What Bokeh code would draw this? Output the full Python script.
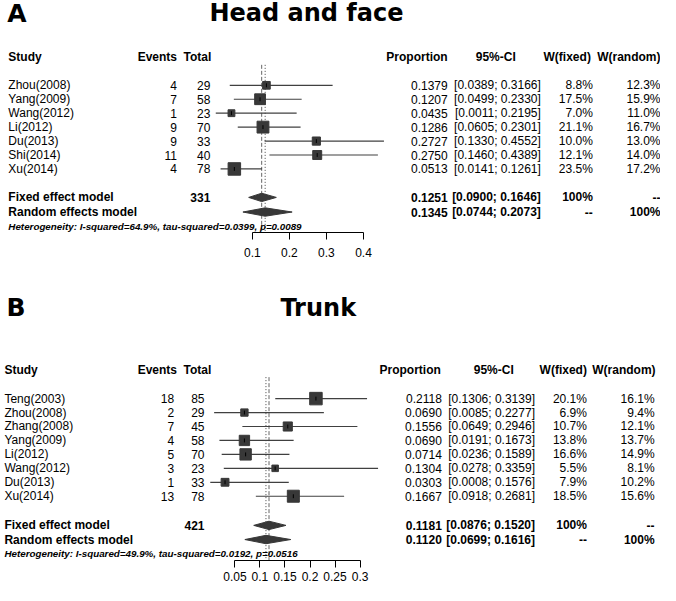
from bokeh.plotting import figure
from bokeh.layouts import column
from bokeh.models import Range1d, FixedTicker
from bokeh.core.properties import value
from bokeh.embed import file_html
from bokeh.resources import INLINE
import math

# ---------------- data: panel A (Head and face) ----------------
a_study = ["Zhou(2008)", "Yang(2009)", "Wang(2012)", "Li(2012)", "Du(2013)", "Shi(2014)", "Xu(2014)"]
a_events = [4, 7, 1, 9, 9, 11, 4]
a_total = [29, 58, 23, 70, 33, 40, 78]
a_prop = [0.1379, 0.1207, 0.0435, 0.1286, 0.2727, 0.2750, 0.0513]
a_lower = [0.0389, 0.0499, 0.0011, 0.0605, 0.1330, 0.1460, 0.0141]
a_upper = [0.3166, 0.2330, 0.2195, 0.2301, 0.4552, 0.4389, 0.1261]
a_wfixed = [8.8, 17.5, 7.0, 21.1, 10.0, 12.1, 23.5]
a_wrandom = [12.3, 15.9, 11.0, 16.7, 13.0, 14.0, 17.2]
a_fixed = [0.1251, 0.0900, 0.1646]
a_random = [0.1345, 0.0744, 0.2073]
a_n_total = 331
a_het = "Heterogeneity: I-squared=64.9%, tau-squared=0.0399, p=0.0089"
a_ticks = [0.1, 0.2, 0.3, 0.4]
a_tick_labels = ["0.1", "0.2", "0.3", "0.4"]

# ---------------- data: panel B (Trunk) ----------------
b_study = ["Teng(2003)", "Zhou(2008)", "Zhang(2008)", "Yang(2009)", "Li(2012)", "Wang(2012)", "Du(2013)", "Xu(2014)"]
b_events = [18, 2, 7, 4, 5, 3, 1, 13]
b_total = [85, 29, 45, 58, 70, 23, 33, 78]
b_prop = [0.2118, 0.0690, 0.1556, 0.0690, 0.0714, 0.1304, 0.0303, 0.1667]
b_lower = [0.1306, 0.0085, 0.0649, 0.0191, 0.0236, 0.0278, 0.0008, 0.0918]
b_upper = [0.3139, 0.2277, 0.2946, 0.1673, 0.1589, 0.3359, 0.1576, 0.2681]
b_wfixed = [20.1, 6.9, 10.7, 13.8, 16.6, 5.5, 7.9, 18.5]
b_wrandom = [16.1, 9.4, 12.1, 13.7, 14.9, 8.1, 10.2, 15.6]
b_fixed = [0.1181, 0.0876, 0.1520]
b_random = [0.1120, 0.0699, 0.1616]
b_n_total = 421
b_het = "Heterogeneity: I-squared=49.9%, tau-squared=0.0192, p=0.0516"
b_ticks = [0.05, 0.1, 0.15, 0.2, 0.25, 0.3]
b_tick_labels = ["0.05", "0.1", "0.15", "0.2", "0.25", "0.3"]

FONT = "Liberation Sans"
TITLE_FONT = "DejaVu Sans"
SQ_COLOR = "#383838"
CI_COLOR = "#404040"
PX_RANGE = (0, 673)   # layout coordinate span across the 660px frame


def panel(letter, title, study, events, total, prop, lower, upper, wf, wr,
          fixed, random, n_total, het, ticks, tick_labels, L):
    px0, px1 = L["forest_px"]
    lo_min, up_max = min(lower), max(upper)
    k = (px1 - px0) / (up_max - lo_min)
    x_start = lo_min + (PX_RANGE[0] - px0) / k
    x_end = lo_min + (PX_RANGE[1] - px0) / k

    p = figure(width=660, height=L["height"], output_backend="svg", toolbar_location=None,
               x_range=Range1d(x_start, x_end), y_range=Range1d(L["axis_y"], L["top"]),
               y_axis_location=None, min_border_left=0, min_border_right=0,
               min_border_top=0, min_border_bottom=L["border_bottom"])
    p.extra_x_ranges = {"px": Range1d(*PX_RANGE)}
    p.outline_line_color = None
    p.xgrid.visible = False
    p.ygrid.visible = False

    n = len(study)
    ys = [L["row0"] + i * L["step"] for i in range(n)]

    # reference lines
    p.segment(x0=[fixed[0]], y0=[L["line_top"]], x1=[fixed[0]], y1=[L["axis_y"]],
              line_color="#666666", line_dash="4 2", line_width=1)
    p.segment(x0=[random[0]], y0=[L["line_top"]], x1=[random[0]], y1=[L["axis_y"]],
              line_color="#444444", line_dash="1 2", line_width=1)

    # CIs, squares and point ticks
    p.segment(x0=lower, y0=ys, x1=upper, y1=ys, line_color=CI_COLOR, line_width=1.2)
    wmax = max(wf)
    sizes = [L["sq_max"] * math.sqrt(w / wmax) for w in wf]
    p.scatter(x=prop, y=ys, marker="square", size=sizes, fill_color=SQ_COLOR, line_color=SQ_COLOR)
    p.segment(x0=prop, y0=[y - 2 for y in ys], x1=prop, y1=[y + 2 for y in ys],
              line_color="black", line_width=1)

    # diamonds
    h = 4.3
    dy = [L["fixed_y"], L["random_y"]]
    xs = [[fixed[1], fixed[0], fixed[2], fixed[0]], [random[1], random[0], random[2], random[0]]]
    yy = [[dy[0], dy[0] - h, dy[0], dy[0] + h], [dy[1], dy[1] - h, dy[1], dy[1] + h]]
    p.patches(xs=xs, ys=yy, fill_color=SQ_COLOR, line_color=SQ_COLOR)

    def txt(x, y, t, align="left", size="12px", style="normal", font=FONT, baseline="middle"):
        p.text(x=x, y=y, text=t, x_range_name="px", text_align=align, text_baseline=baseline,
               text_font=value(font), text_font_size=size, text_font_style=style, text_color="black")

    # titles
    txt([L["letter_x"]], [L["title_y"]], [letter], size="25px", style="bold", font=TITLE_FONT)
    txt([L["title_x"]], [L["title_y"]], [title], align="center", size="24px", style="bold", font=TITLE_FONT)

    # headers
    hy = L["header_y"]
    txt([L["study_x"]], [hy], ["Study"], style="bold")
    txt([L["h_events"], L["h_total"], L["h_prop"], L["h_wf"], L["h_wr"]], [hy] * 5,
        ["Events", "Total", "Proportion", "W(fixed)", "W(random)"], align="right", style="bold")
    txt([L["h_ci"]], [hy], ["95%-CI"], align="center", style="bold")

    # study rows
    txt([L["study_x"]] * n, ys, study)
    txt([L["events_r"]] * n, ys, [str(e) for e in events], align="right")
    txt([L["total_r"]] * n, ys, [str(t) for t in total], align="right")
    txt([L["prop_r"]] * n, ys, ["%.4f" % v for v in prop], align="right")
    txt([L["ci_r"]] * n, ys, ["[%.4f; %.4f]" % (a, b) for a, b in zip(lower, upper)], align="right")
    txt([L["wf_r"]] * n, ys, ["%.1f%%" % w for w in wf], align="right")
    txt([L["wr_r"]] * n, ys, ["%.1f%%" % w for w in wr], align="right")

    # summary rows
    txt([L["study_x"]] * 2, dy, ["Fixed effect model", "Random effects model"], style="bold")
    txt([L["total_r"]], [dy[0]], [str(n_total)], align="right", style="bold")
    txt([L["prop_r"]] * 2, dy, ["%.4f" % fixed[0], "%.4f" % random[0]], align="right", style="bold")
    txt([L["ci_r"]] * 2, dy, ["[%.4f; %.4f]" % (fixed[1], fixed[2]), "[%.4f; %.4f]" % (random[1], random[2])],
        align="right", style="bold")
    txt([L["wf_r"]] * 2, dy, ["100%", "--"], align="right", style="bold")
    txt([L["wr_r"]] * 2, dy, ["--", "100%"], align="right", style="bold")
    txt([L["study_x"]], [L["het_y"]], [het], size="9.8px", style="bold italic")

    # axis
    ax = p.xaxis[0]
    ax.ticker = FixedTicker(ticks=ticks)
    ax.bounds = (ticks[0], ticks[-1])
    ax.major_label_overrides = {t: l for t, l in zip(ticks, tick_labels)}
    ax.minor_tick_line_color = None
    ax.major_tick_in = 0
    ax.major_tick_out = 7
    ax.major_label_standoff = L["standoff"]
    ax.axis_line_color = "black"
    ax.major_tick_line_color = "black"
    ax.major_label_text_font = FONT
    ax.major_label_text_font_size = "12px"
    ax.major_label_text_color = "black"
    return p


LA = dict(height=284, border_bottom=52, top=0, axis_y=238, forest_px=(219.5, 391.0),
          letter_x=7, title_x=312, title_y=13, header_y=58, line_top=66,
          row0=87, step=14.3, fixed_y=202, random_y=217, het_y=232, sq_max=12.5,
          study_x=8, events_r=180, total_r=214, h_events=180, h_total=215,
          prop_r=456, ci_r=551, wf_r=604, wr_r=673,
          h_prop=456, h_ci=505, h_wf=602, h_wr=673, standoff=8)
LB = dict(height=301, border_bottom=25, top=290, axis_y=573, forest_px=(213.9, 385.0),
          letter_x=6, title_x=324, title_y=314, header_y=378, line_top=385,
          row0=407, step=14.3, fixed_y=537, random_y=551.5, het_y=566, sq_max=12.5,
          study_x=4, events_r=177, total_r=208, h_events=180, h_total=215,
          prop_r=450, ci_r=545, wf_r=598, wr_r=667,
          h_prop=449, h_ci=503, h_wf=598, h_wr=668, standoff=4)

pa = panel("A", "Head and face", a_study, a_events, a_total, a_prop, a_lower, a_upper,
           a_wfixed, a_wrandom, a_fixed, a_random, a_n_total, a_het, a_ticks, a_tick_labels, LA)
pb = panel("B", "Trunk", b_study, b_events, b_total, b_prop, b_lower, b_upper,
           b_wfixed, b_wrandom, b_fixed, b_random, b_n_total, b_het, b_ticks, b_tick_labels, LB)

layout = column(pa, pb, spacing=0)
open("out.html", "w").write(file_html(layout, INLINE))
